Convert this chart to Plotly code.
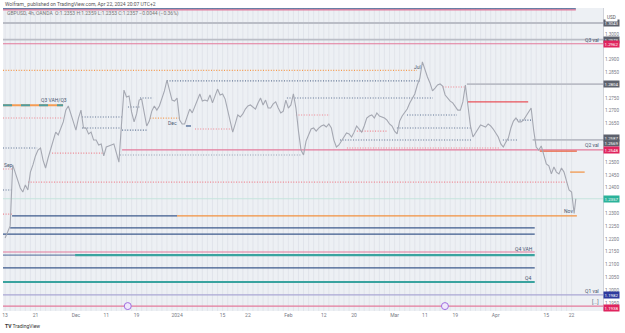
import pandas as pd
import plotly.graph_objects as go

# ---------------- data ----------------
holidays = ["2023-12-25", "2024-01-01", "2024-03-29"]
first_day = "2023-11-13"
last_day = "2024-04-22"

price_half_day = [
    1.2204, 1.2227, 1.2251, 1.2489, 1.2461, 1.2430, 1.2399, 1.2383, 1.2411, 1.2391,
    1.2461, 1.2489, 1.2524, 1.2547, 1.2555, 1.2508, 1.2477, 1.2516, 1.2547, 1.2586,
    1.2617, 1.2606, 1.2633, 1.2657, 1.2703, 1.2719, 1.2688, 1.2657, 1.2625, 1.2672,
    1.2703, 1.2633, 1.2633, 1.2610, 1.2617, 1.2586, 1.2586, 1.2567, 1.2571, 1.2524,
    1.2559, 1.2563, 1.2567, 1.2571, 1.2536, 1.2500, 1.2645, 1.2781, 1.2754, 1.2758,
    1.2696, 1.2657, 1.2688, 1.2742, 1.2746, 1.2696, 1.2641, 1.2660, 1.2699, 1.2719,
    1.2703, 1.2719, 1.2746, 1.2778, 1.2820, 1.2781, 1.2742, 1.2738, 1.2750, 1.2664,
    1.2649, 1.2649, 1.2680, 1.2707, 1.2692, 1.2719, 1.2746, 1.2766, 1.2738, 1.2742,
    1.2738, 1.2762, 1.2731, 1.2762, 1.2785, 1.2762, 1.2766, 1.2746, 1.2703, 1.2660,
    1.2617, 1.2649, 1.2684, 1.2676, 1.2688, 1.2707, 1.2719, 1.2723, 1.2715, 1.2707,
    1.2731, 1.2750, 1.2723, 1.2742, 1.2711, 1.2711, 1.2727, 1.2735, 1.2711, 1.2692,
    1.2699, 1.2742, 1.2711, 1.2723, 1.2766, 1.2711, 1.2621, 1.2547, 1.2528, 1.2582,
    1.2606, 1.2629, 1.2633, 1.2621, 1.2633, 1.2641, 1.2645, 1.2637, 1.2649, 1.2633,
    1.2586, 1.2559, 1.2567, 1.2582, 1.2602, 1.2614, 1.2610, 1.2598, 1.2617, 1.2641,
    1.2629, 1.2617, 1.2641, 1.2672, 1.2680, 1.2684, 1.2672, 1.2692, 1.2680, 1.2676,
    1.2672, 1.2664, 1.2649, 1.2641, 1.2621, 1.2610, 1.2660, 1.2680, 1.2696, 1.2707,
    1.2731, 1.2750, 1.2766, 1.2801, 1.2828, 1.2891, 1.2859, 1.2832, 1.2809, 1.2778,
    1.2789, 1.2801, 1.2805, 1.2797, 1.2762, 1.2750, 1.2738, 1.2731, 1.2719, 1.2703,
    1.2703, 1.2735, 1.2801, 1.2711, 1.2641, 1.2598, 1.2614, 1.2633, 1.2645, 1.2641,
    1.2637, 1.2649, 1.2641, 1.2629, 1.2614, 1.2598, 1.2571, 1.2559, 1.2578, 1.2594,
    1.2633, 1.2660, 1.2672, 1.2657, 1.2657, 1.2664, 1.2680, 1.2696, 1.2711, 1.2625,
    1.2559, 1.2547, 1.2563, 1.2528, 1.2493, 1.2485, 1.2454, 1.2481, 1.2461, 1.2454,
    1.2477, 1.2461, 1.2430, 1.2391, 1.2383, 1.2300,
]
last_bar_time = "2024-04-22 20:00"
last_price = 1.2357

axis_start = "2023-11-10 14:00"
axis_end = "2024-04-30 05:00"

# horizontal levels: price, start, end, style key
level_price = [1.3098, 1.3094, 1.3043, 1.2978, 1.2962, 1.2858, 1.2817, 1.2804,
               1.2750, 1.2715, 1.2672, 1.2676, 1.2672, 1.2633, 1.2625, 1.2629,
               1.2555, 1.2535, 1.2548, 1.2528, 1.2473, 1.2422, 1.2391, 1.2357,
               1.2297, 1.2290, 1.2290, 1.2750, 1.2793, 1.2735, 1.2684, 1.2684,
               1.2633, 1.2621, 1.2586, 1.2586, 1.2664, 1.2587, 1.2543, 1.2461,
               1.2555, 1.2641, 1.2243, 1.2219, 1.2149, 1.2137, 1.2137, 1.2087,
               1.2032, 1.1982, 1.1938]
level_start = ["2023-11-10 14:00", "2023-11-10 14:00", "2023-11-10 14:00", "2023-11-10 14:00",
               "2023-11-10 14:00", "2023-11-10 14:00", "2023-12-28 00:00", "2024-03-21 07:00",
               "2023-12-19 16:00", "2023-12-15 07:00", "2023-11-10 14:00", "2023-12-04 05:00",
               "2023-12-21 16:00", "2023-12-04 05:00", "2023-12-14 03:00", "2024-01-05 13:00",
               "2023-11-10 14:00", "2023-11-24 07:00", "2023-12-14 03:00", "2023-12-13 17:00",
               "2023-11-10 14:00", "2023-11-17 13:00", "2023-11-10 14:00", "2023-11-10 14:00",
               "2023-11-10 14:00", "2023-11-14 09:00", "2024-01-02 00:00", "2024-01-31 17:00",
               "2024-03-14 13:00", "2024-03-21 12:00", "2024-02-02 12:00", "2024-03-05 11:00",
               "2024-03-01 11:00", "2024-02-20 13:00", "2024-02-15 05:00", "2024-04-02 10:00",
               "2024-04-05 05:00", "2024-04-10 07:00", "2024-04-11 17:00", "2024-04-19 17:00",
               "2024-02-16 14:00", "2024-01-03 18:00", "2023-11-14 00:00", "2023-11-10 14:00",
               "2023-11-10 14:00", "2023-11-10 14:00", "2023-11-30 20:00", "2023-11-10 14:00",
               "2023-11-10 14:00", "2023-11-10 14:00", "2023-11-10 14:00"]
level_end = ["2024-04-22 20:00", "2024-04-22 20:00", "2024-04-30 05:00", "2024-04-30 05:00",
             "2024-04-30 05:00", "2024-03-07 10:00", "2024-03-08 00:00", "2024-04-30 05:00",
             "2023-12-22 06:00", "2023-12-19 16:00", "2023-11-28 11:00", "2023-12-14 03:00",
             "2024-01-02 14:00", "2023-12-14 03:00", "2023-12-21 06:00", "2024-01-16 20:00",
             "2023-11-21 08:00", "2023-12-08 09:00", "2024-04-30 05:00", "2024-02-05 17:00",
             "2023-11-14 09:00", "2024-04-19 02:00", "2023-11-14 09:00", "2024-04-30 05:00",
             "2023-11-14 09:00", "2024-01-02 00:00", "2024-04-23 01:00", "2024-03-12 14:00",
             "2024-03-20 22:00", "2024-04-09 10:00", "2024-02-13 05:00", "2024-03-19 08:00",
             "2024-03-22 07:00", "2024-02-28 12:00", "2024-03-22 07:00", "2024-04-05 10:00",
             "2024-04-10 07:00", "2024-04-30 05:00", "2024-04-23 01:00", "2024-04-24 14:00",
             "2024-04-01 19:00", "2024-01-04 18:00", "2024-04-10 17:00", "2024-04-10 17:00",
             "2024-04-10 17:00", "2023-11-30 20:00", "2024-04-10 17:00", "2024-04-10 17:00",
             "2024-04-10 17:00", "2024-04-30 05:00", "2024-04-30 05:00"]
level_kind = ["navy", "pink", "gray", "gray", "pink", "orange_dot", "blue_dot", "gray",
              "blue_dot", "blue_dot", "red_dot", "blue_dot", "orange_dot", "blue_dot", "blue_dot", "red_dot",
              "blue_dot", "red_dot", "pink", "gray_dot", "red_dot", "red_dot", "blue_dot", "last",
              "red_dot", "navy", "orange", "blue_dot", "red_dot", "red", "red_dot", "blue_dot",
              "blue_dot", "red_dot", "blue_dot", "blue_dot", "blue_dot", "gray", "redorange", "orange",
              "red_dot", "navy", "navy", "navy", "pink", "navy_thin", "teal", "navy",
              "teal", "lavender", "pink"]

# dashed two-colour Q3 VAH level
q3_price = 1.2722
q3_start = "2023-11-10 14:00"
q3_end = "2023-11-28 11:00"

# chart text labels
label_text = ["Q3 VAH/Q3", "Sep", "Dec", "Jul", "Nov", "Q4 VAH", "Q4"]
label_time = ["2023-11-24 17:00", "2023-11-13 14:00", "2023-12-29 00:00", "2024-03-07 15:00",
              "2024-04-19 07:00", "2024-04-08 14:00", "2024-04-09 10:00"]
label_price = [1.2742, 1.2489, 1.2653, 1.2871, 1.2309, 1.2161, 1.2048]

right_label_text = ["Q3 val", "Q2 val", "Q1 val", "[...]"]
right_label_price = [1.2977, 1.2567, 1.1997, 1.1954]

# price-scale tags
tag_value = [1.3043, 1.2978, 1.2962, 1.2804, 1.2587, 1.2569, 1.2548, 1.2357, 1.1982, 1.1938]
tag_kind = ["gray", "gray", "red", "gray", "gray", "gray", "red", "green", "blue", "red"]

tick_prices = [1.3000, 1.2900, 1.2850, 1.2750, 1.2700, 1.2650, 1.2500, 1.2450, 1.2400,
               1.2300, 1.2250, 1.2200, 1.2150, 1.2100, 1.2050, 1.2000, 1.1950]
tick_dates = ["2023-11-13", "2023-11-21", "2023-12-01", "2023-12-11", "2023-12-19", "2024-01-02",
              "2024-01-15", "2024-01-22", "2024-02-01", "2024-02-12", "2024-02-20", "2024-03-01",
              "2024-03-11", "2024-03-19", "2024-04-01", "2024-04-15", "2024-04-22"]
tick_text = ["13", "21", "Dec", "11", "19", "2024", "15", "22", "Feb", "12", "20", "Mar",
             "11", "19", "Apr", "15", "22"]

event_times = ["2023-12-15 06:00", "2024-03-14 23:00"]
event_price = 1.1938

legend_text = "GBPUSD, 4h, OANDA  O:1.2353 H:1.2359 L:1.2353 C:1.2357 −0.0044 (−0.36%)"
title_text = "Wolfram_ published on TradingView.com, Apr 22, 2024 20:07 UTC+2"

# ---------------- styles ----------------
DOT = "1px,1.6px"
STYLE = {
    "navy": dict(color="#3c5a8c", width=1.2, dash="solid"),
    "navy_thin": dict(color="#3c5a8c", width=0.9, dash="solid"),
    "pink": dict(color="#e37a9b", width=1.2, dash="solid"),
    "gray": dict(color="#babdc6", width=1.8, dash="solid"),
    "orange_dot": dict(color="#f5994c", width=1.2, dash=DOT),
    "blue_dot": dict(color="#5f7393", width=1.1, dash=DOT),
    "gray_dot": dict(color="#95a0b3", width=1.1, dash=DOT),
    "red_dot": dict(color="#ee8590", width=1.1, dash=DOT),
    "orange": dict(color="#f2913f", width=1.2, dash="solid"),
    "red": dict(color="#e8525a", width=1.4, dash="solid"),
    "redorange": dict(color="#e8603c", width=1.4, dash="solid"),
    "teal": dict(color="#3aa39f", width=2.2, dash="solid"),
    "lavender": dict(color="#aaa7d4", width=1.2, dash="solid"),
    "last": dict(color="#c3e3da", width=0.9, dash="solid"),
}
TAG_COLOR = {"gray": "#5d616d", "red": "#e0245e", "green": "#2bb39a", "blue": "#2e3a9e"}
TAG_SHIFT = {1.2587: 2, 1.2569: 1, 1.1938: -2}

y_lo, y_hi = 1.19188, 1.31015

# ---------------- build ----------------
cbd = pd.offsets.CustomBusinessDay(holidays=holidays)
days = pd.date_range(first_day, last_day, freq=cbd)
times = []
for d in days:
    times += [d, d + pd.Timedelta(hours=12)]
times = times[:len(price_half_day)] + [pd.Timestamp(last_bar_time)]
prices = price_half_day + [last_price]

fig = go.Figure()

# daily separators
gx, gy = [], []
for d in days:
    gx += [d, d, None]
    gy += [y_lo, y_hi, None]
fig.add_trace(go.Scatter(x=gx, y=gy, mode="lines", line=dict(color="#dde0e7", width=0.7),
                         hoverinfo="skip", showlegend=False))

for p, s, e, k in zip(level_price, level_start, level_end, level_kind):
    st = STYLE[k]
    fig.add_trace(go.Scatter(x=[s, e], y=[p, p], mode="lines",
                             line=dict(color=st["color"], width=st["width"], dash=st["dash"]),
                             hoverinfo="skip", showlegend=False))

fig.add_trace(go.Scatter(x=[q3_start, q3_end], y=[q3_price, q3_price], mode="lines",
                         line=dict(color="#f59d55", width=2), showlegend=False, hoverinfo="skip"))
fig.add_trace(go.Scatter(x=[q3_start, q3_end], y=[q3_price, q3_price], mode="lines",
                         line=dict(color="#4f9ea0", width=2, dash="dash"), showlegend=False,
                         hoverinfo="skip"))

fig.add_trace(go.Scatter(x=times, y=prices, mode="lines",
                         line=dict(color="#a5a8b2", width=1.1), showlegend=False))

fig.add_trace(go.Scatter(x=event_times, y=[event_price] * len(event_times), mode="markers",
                         marker=dict(symbol="circle", size=7, color="#efe8fb",
                                     line=dict(color="#a06ee0", width=1)),
                         showlegend=False, hoverinfo="skip"))

ann = []
for t, x, y in zip(label_text, label_time, label_price):
    ann.append(dict(x=x, y=y, text=t, showarrow=False, font=dict(size=5, color="#4a5770")))
for t, y in zip(right_label_text, right_label_price):
    ann.append(dict(x=axis_end, y=y, text=t, showarrow=False, xanchor="right", xshift=-2,
                    font=dict(size=5, color="#4a5770")))
for v, k in zip(tag_value, tag_kind):
    ann.append(dict(xref="paper", x=1, y=v, text=f"{v:.4f}", showarrow=False, xanchor="left",
                    xshift=0, yshift=TAG_SHIFT.get(v, 0), bgcolor=TAG_COLOR[k], borderpad=0.5,
                    font=dict(size=4.4, color="white")))
ann.append(dict(xref="paper", yref="paper", x=1, y=0.982, text="USD", showarrow=False,
                xanchor="left", xshift=2, bgcolor="white", borderpad=1,
                font=dict(size=4.6, color="#555")))
ann.append(dict(xref="paper", yref="paper", x=0, y=1.013, text=title_text, showarrow=False,
                xanchor="left", yanchor="middle", font=dict(size=5, color="#555")))
ann.append(dict(xref="paper", yref="paper", x=0.004, y=0.982, text=legend_text, showarrow=False,
                xanchor="left", yanchor="middle", font=dict(size=5, color="#777")))
ann.append(dict(xref="paper", yref="paper", x=0, y=-0.05, text="<b>TV</b> TradingView",
                showarrow=False, xanchor="left", yanchor="middle",
                font=dict(size=5, color="#333")))

fig.update_layout(
    width=625, height=333,
    margin=dict(l=3, r=22, t=8, b=22),
    paper_bgcolor="white",
    plot_bgcolor="#edf0f4",
    font=dict(family="Roboto, Liberation Sans, sans-serif"),
    annotations=ann,
    showlegend=False,
)
fig.update_xaxes(
    range=[axis_start, axis_end],
    rangebreaks=[dict(bounds=["sat", "mon"]), dict(values=holidays)],
    tickvals=tick_dates, ticktext=tick_text,
    tickfont=dict(size=5, color="#777a85"),
    showgrid=False, zeroline=False, showline=False, ticks="", ticklen=0,
)
fig.update_yaxes(
    range=[y_lo, y_hi], side="right",
    tickvals=tick_prices, ticktext=[f"{v:.4f}" for v in tick_prices],
    tickfont=dict(size=4.6, color="#777a85"),
    showgrid=False, zeroline=False, showline=True, linecolor="#d0d3da", linewidth=1,
    ticks="", ticklen=0,
)

fig.write_html("out.html")
